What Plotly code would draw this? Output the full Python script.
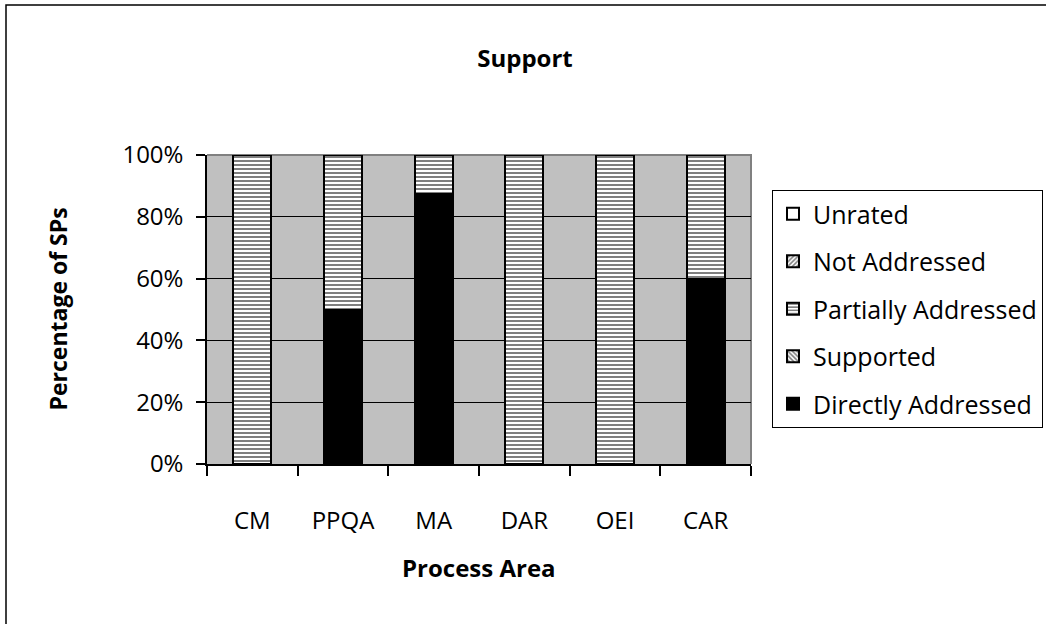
import plotly.graph_objects as go

# Share of specific practices (SPs) per process area, by rating
process_areas = ["CM", "PPQA", "MA", "DAR", "OEI", "CAR"]
directly_addressed = [0, 50, 87.5, 0, 0, 60]
supported = [0, 0, 0, 0, 0, 0]
partially_addressed = [100, 50, 12.5, 100, 100, 40]
not_addressed = [0, 0, 0, 0, 0, 0]
unrated = [0, 0, 0, 0, 0, 0]
y_ticks = [0, 20, 40, 60, 80, 100]
y_tick_labels = ["0%", "20%", "40%", "60%", "80%", "100%"]

FONT = "Open Sans"
W, H = 1050, 624
ML, MR, MT, MB = 207, 299, 155, 160

# stacked bottom to top; legend lists them top to bottom
series = [
    ("Directly Addressed", directly_addressed, "", "black", 5),
    ("Supported", supported, "\\", "white", 4),
    ("Partially Addressed", partially_addressed, "-", "white", 3),
    ("Not Addressed", not_addressed, "/", "white", 2),
    ("Unrated", unrated, "", "white", 1),
]

fig = go.Figure()
for name, vals, shape, color, rank in series:
    fig.add_trace(go.Bar(
        x=process_areas, y=vals, name=name, legendgroup=name, legendrank=rank,
        width=0.42,
        marker=dict(
            color=color,
            line=dict(color="black", width=2),
            pattern=dict(shape=shape, fgcolor="black", bgcolor="white",
                         size=4, solidity=0.5, fillmode="overlay"),
        ),
    ))

# pixel -> paper helpers for the outer frame
pw, ph = W - ML - MR, H - MT - MB
def px(x):
    return (x - ML) / pw
def py(y):
    return (H - MB - y) / ph

shapes = [
    # grey frame on top and right of the plotting area
    dict(type="path", xref="paper", yref="paper",
         path="M 0,1 L 1,1 L 1,0", line=dict(color="#808080", width=2), layer="below"),
    # chart outline
    dict(type="path", xref="paper", yref="paper",
         path=f"M {px(6)},{py(640)} L {px(6)},{py(5)} L {px(1046)},{py(5)}",
         line=dict(color="black", width=1.5)),
]

fig.update_layout(
    width=W, height=H,
    margin=dict(l=ML, r=MR, t=MT, b=MB, autoexpand=False),
    barmode="stack",
    paper_bgcolor="white",
    plot_bgcolor="#c0c0c0",
    font=dict(family=FONT, size=24, color="black"),
    title=dict(text="<b>Support</b>", x=0.5, xref="container", xanchor="center",
               y=1 - 59 / H, yref="container", yanchor="middle",
               font=dict(family=FONT, size=24, color="black")),
    showlegend=True,
    legend=dict(
        traceorder="grouped", tracegroupgap=12,
        x=px(772), xanchor="left", y=py(190), yanchor="top",
        bgcolor="white", bordercolor="black", borderwidth=1,
        itemwidth=30,
        font=dict(family=FONT, size=25, color="black"),
    ),
    shapes=shapes,
    annotations=[
        dict(text="<b>Process Area</b>", xref="paper", yref="paper",
             x=0.5, y=py(567), xanchor="center", yanchor="middle",
             showarrow=False, font=dict(family=FONT, size=24)),
        dict(text="<b>Percentage of SPs</b>", xref="paper", yref="paper",
             x=px(57), y=0.5, xanchor="center", yanchor="middle", textangle=-90,
             showarrow=False, font=dict(family=FONT, size=23)),
    ],
)

fig.update_xaxes(
    showline=True, linecolor="black", linewidth=1.5,
    ticks="outside", tickson="boundaries", ticklen=10, tickcolor="black", tickwidth=1.5,
    ticklabelstandoff=34, showgrid=False,
    tickfont=dict(family=FONT, size=24),
)
fig.update_yaxes(
    range=[0, 100], tickmode="array", tickvals=y_ticks, ticktext=y_tick_labels,
    showline=True, linecolor="black", linewidth=1.5,
    ticks="outside", ticklen=9, tickcolor="black", tickwidth=1.5,
    ticklabelstandoff=8,
    showgrid=True, gridcolor="black", gridwidth=1,
    zeroline=False,
    tickfont=dict(family=FONT, size=24),
)

fig.write_html("out.html")
